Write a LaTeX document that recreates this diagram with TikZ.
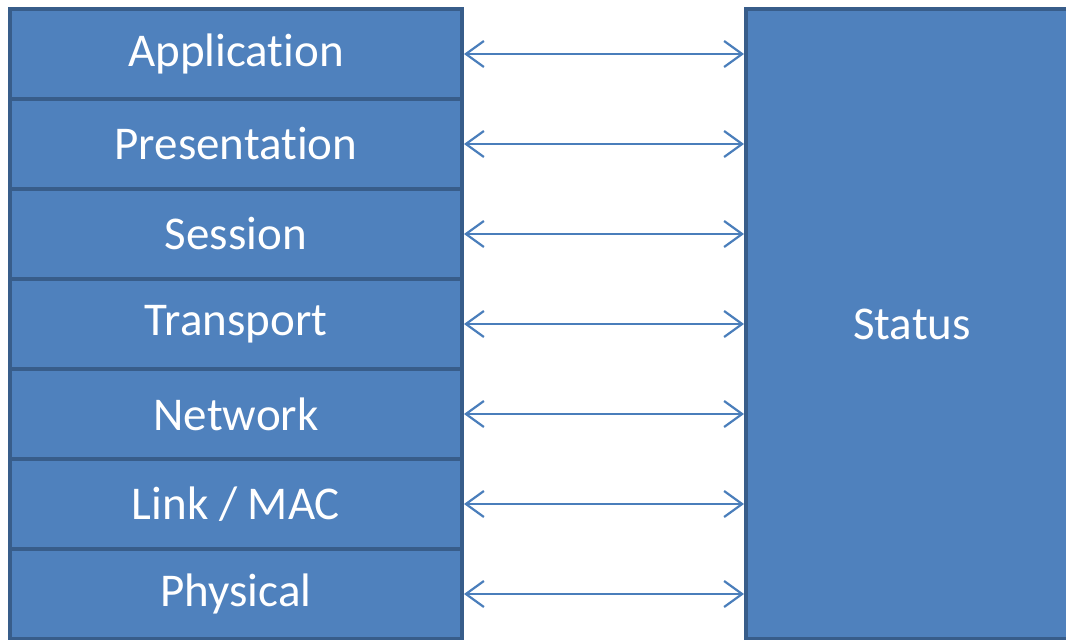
\documentclass[tikz,border=0pt]{standalone}
\usepackage{fontspec}
\setmainfont[Ligatures=NoCommon]{Carlito}
\usetikzlibrary{arrows.meta}
\definecolor{boxfill}{HTML}{4F81BD}
\definecolor{boxline}{HTML}{385D8A}
\definecolor{arrowcol}{HTML}{4A7EBB}
\tikzset{
  layer/.style={draw=boxline, fill=boxfill, line width=4pt, minimum width=452pt, minimum height=90pt, inner sep=0pt, anchor=north west, text=white, font=\fontsize{47pt}{50pt}\selectfont},
  statusbox/.style={draw=boxline, fill=boxfill, line width=4pt, minimum width=332pt, minimum height=630pt, inner sep=0pt, anchor=north west, text=white, font=\fontsize{47pt}{50pt}\selectfont},
  link/.style={draw=arrowcol, line width=2.2pt, {Straight Barb[length=18pt,width=26pt,line width=2.2pt]}-{Straight Barb[length=18pt,width=26pt,line width=2.2pt]}}
}
\begin{document}
\begin{tikzpicture}[x=1pt,y=-1pt]
\useasboundingbox (0,0) rectangle (1066,640);
\clip (0,0) rectangle (1066,640);
\node[statusbox] (status) at (744,7) {Status};
\foreach \name/\txt [count=\i from 0] in {app/{Applicat\kern0pt ion},pres/{Presentat\kern0pt ion},sess/Session,trans/Transport,net/Network,link/{Link / MAC},phys/Physical}{
  \node[layer] (\name) at (8,7+90*\i) {\txt};
  \draw[link] (\name.east) -- (\name.east -| status.west);
}
\end{tikzpicture}
\end{document}
